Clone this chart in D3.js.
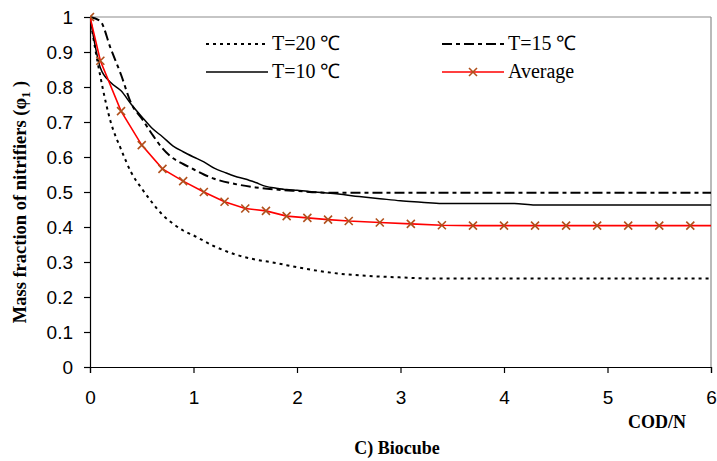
<!DOCTYPE html>
<html>
<head>
<meta charset="utf-8">
<script src="https://cdn.jsdelivr.net/npm/d3@7"></script>
<style>
  html, body { margin: 0; padding: 0; background: #fff; }
  svg { display: block; }
</style>
</head>
<body>
<svg id="chart" width="717" height="461"></svg>
<script>
// ---- Data ----
const xTicks = [0, 1, 2, 3, 4, 5, 6];
const yTicks = [0, 0.1, 0.2, 0.3, 0.4, 0.5, 0.6, 0.7, 0.8, 0.9, 1];
const seriesNames = ["T=20 \u2103", "T=15 \u2103", "T=10 \u2103", "Average"];

const t20X = [0, 0.05, 0.1, 0.2, 0.3, 0.4, 0.5, 0.6, 0.7, 0.8, 0.9, 1.0, 1.2, 1.4, 1.6, 1.8, 2.0, 2.2, 2.4, 2.7, 3.0, 3.3, 6.1];
const t20Y = [1.0, 0.91, 0.83, 0.70, 0.622, 0.555, 0.51, 0.47, 0.435, 0.41, 0.39, 0.376, 0.345, 0.322, 0.307, 0.297, 0.285, 0.275, 0.267, 0.26, 0.256, 0.253, 0.253];

const t15X = [0, 0.1, 0.2, 0.3, 0.4, 0.5, 0.6, 0.7, 0.8, 0.9, 1.0, 1.1, 1.2, 1.4, 1.6, 1.8, 2.0, 2.3, 6.1];
const t15Y = [1.0, 0.988, 0.91, 0.835, 0.752, 0.71, 0.665, 0.625, 0.597, 0.58, 0.565, 0.55, 0.538, 0.523, 0.513, 0.507, 0.503, 0.498, 0.498];

const t10X = [0, 0.1, 0.2, 0.3, 0.4, 0.5, 0.6, 0.7, 0.8, 0.9, 1.0, 1.1, 1.2, 1.3, 1.4, 1.5, 1.6, 1.7, 1.8, 1.9, 2.0, 2.2, 2.4, 2.6, 2.8, 3.0, 3.2, 3.4, 4.1, 4.3, 6.1];
const t10Y = [1.0, 0.855, 0.813, 0.789, 0.75, 0.715, 0.682, 0.658, 0.632, 0.615, 0.6, 0.586, 0.568, 0.556, 0.545, 0.537, 0.527, 0.516, 0.511, 0.507, 0.505, 0.499, 0.494, 0.487, 0.481, 0.475, 0.471, 0.467, 0.467, 0.463, 0.463];

const avgX = [0, 0.1, 0.3, 0.5, 0.7, 0.9, 1.1, 1.3, 1.5, 1.7, 1.9, 2.1, 2.3, 2.5, 2.8, 3.1, 3.4, 3.7, 4.0, 4.3, 4.6, 4.9, 5.2, 5.5, 5.8, 6.1];
const avgY = [1.0, 0.875, 0.731, 0.634, 0.566, 0.531, 0.500, 0.472, 0.453, 0.446, 0.431, 0.426, 0.421, 0.417, 0.413, 0.409, 0.405, 0.404, 0.404, 0.404, 0.404, 0.404, 0.404, 0.404, 0.404, 0.404];

// ---- Layout ----
const svg = d3.select("#chart");
const mL = 90, mR = 711, mT = 17, mB = 367;

const x = d3.scaleLinear().domain([0, 6]).range([mL, mR]);
const y = d3.scaleLinear().domain([0, 1]).range([mB, mT]);

const zip = (xs, ys) => xs.map((v, i) => [v, ys[i]]);

svg.append("defs").append("clipPath").attr("id", "plotclip")
  .append("rect").attr("x", mL).attr("y", mT - 6)
  .attr("width", mR - mL).attr("height", mB - mT + 12);

// plot border (gray top/right)
svg.append("line").attr("x1", mL).attr("x2", mR).attr("y1", mT).attr("y2", mT)
  .attr("stroke", "#8c8c8c").attr("stroke-width", 1.2);
svg.append("line").attr("x1", mR).attr("x2", mR).attr("y1", mT).attr("y2", mB)
  .attr("stroke", "#8c8c8c").attr("stroke-width", 1.2);

// axes
const xAxis = d3.axisBottom(x).tickValues(xTicks).tickSize(6).tickFormat(d3.format("d"));
const yAxis = d3.axisLeft(y).tickValues(yTicks).tickSize(6).tickFormat(d => d === 0 || d === 1 ? String(d) : d.toFixed(1));

const gx = svg.append("g").attr("transform", `translate(0,${mB})`).call(xAxis);
const gy = svg.append("g").attr("transform", `translate(${mL},0)`).call(yAxis);
[gx, gy].forEach(g => {
  g.select(".domain").attr("stroke", "#000").attr("stroke-width", 1.2);
  g.selectAll(".tick line").attr("stroke", "#000").attr("stroke-width", 1.2);
  g.selectAll(".tick text").attr("fill", "#000")
    .style("font-family", "'Liberation Sans', Arial, sans-serif").style("font-size", "19px");
});
gx.selectAll(".tick text").attr("dy", "1.45em");
gy.selectAll(".tick text").attr("x", -17).attr("dy", "0.36em");

// series
const plot = svg.append("g").attr("clip-path", "url(#plotclip)");
const lineS = d3.line().x(d => x(d[0])).y(d => y(d[1])).curve(d3.curveMonotoneX);
const lineL = d3.line().x(d => x(d[0])).y(d => y(d[1])).curve(d3.curveLinear);

const styles = {
  t20: { stroke: "#000", width: 2, dash: "3,4" },
  t15: { stroke: "#000", width: 2, dash: "10,4,4,4" },
  t10: { stroke: "#000", width: 1.5, dash: null },
  avg: { stroke: "#ff0000", width: 1.6, dash: null }
};

function drawLine(data, st, gen) {
  plot.append("path").datum(data).attr("d", gen)
    .attr("fill", "none").attr("stroke", st.stroke).attr("stroke-width", st.width)
    .attr("stroke-dasharray", st.dash);
}
drawLine(zip(t20X, t20Y), styles.t20, lineS);
drawLine(zip(t15X, t15Y), styles.t15, lineS);
drawLine(zip(t10X, t10Y), styles.t10, lineS);
drawLine(zip(avgX, avgY), styles.avg, lineL);

const markerColor = "#b0501c";
function cross(g, cx, cy, r) {
  g.append("path")
    .attr("d", `M${cx - r},${cy - r}L${cx + r},${cy + r}M${cx - r},${cy + r}L${cx + r},${cy - r}`)
    .attr("stroke", markerColor).attr("stroke-width", 1.6).attr("fill", "none");
}
zip(avgX, avgY).forEach(d => cross(plot, x(d[0]), y(d[1]), 4));

// legend
const legend = svg.append("g");
const legItems = [
  { name: seriesNames[0], st: styles.t20, lx: 206, ly: 44, marker: false },
  { name: seriesNames[1], st: styles.t15, lx: 442, ly: 44, marker: false },
  { name: seriesNames[2], st: styles.t10, lx: 206, ly: 72, marker: false },
  { name: seriesNames[3], st: styles.avg, lx: 442, ly: 72, marker: true }
];
legItems.forEach(it => {
  legend.append("line").attr("x1", it.lx).attr("x2", it.lx + 62)
    .attr("y1", it.ly).attr("y2", it.ly)
    .attr("stroke", it.st.stroke).attr("stroke-width", it.st.width)
    .attr("stroke-dasharray", it.st.dash);
  if (it.marker) cross(legend, it.lx + 31, it.ly, 4);
  legend.append("text").attr("x", it.lx + 66).attr("y", it.ly + 6)
    .style("font-family", "'Liberation Serif', 'Times New Roman', serif")
    .style("font-size", "20px").attr("fill", "#000").text(it.name);
});

// axis titles
const yl = svg.append("text")
  .attr("transform", `translate(26,${(mT + mB) / 2 + 10}) rotate(-90)`)
  .attr("text-anchor", "middle")
  .style("font-family", "'Liberation Serif', 'Times New Roman', serif")
  .style("font-size", "18.5px").style("font-weight", "bold").attr("fill", "#000");
yl.append("tspan").text("Mass fraction of nitrifiers (\u03C6");
yl.append("tspan").attr("dy", 4).style("font-size", "13px").text("1");
yl.append("tspan").attr("dy", -4).text(" )");

svg.append("text").attr("x", 686).attr("y", 428).attr("text-anchor", "end")
  .style("font-family", "'Liberation Serif', 'Times New Roman', serif")
  .style("font-size", "18px").style("font-weight", "bold").attr("fill", "#000")
  .text("COD/N");

svg.append("text").attr("x", 397).attr("y", 454).attr("text-anchor", "middle")
  .style("font-family", "'Liberation Serif', 'Times New Roman', serif")
  .style("font-size", "18px").style("font-weight", "bold").attr("fill", "#000")
  .text("C) Biocube");
</script>
</body>
</html>
